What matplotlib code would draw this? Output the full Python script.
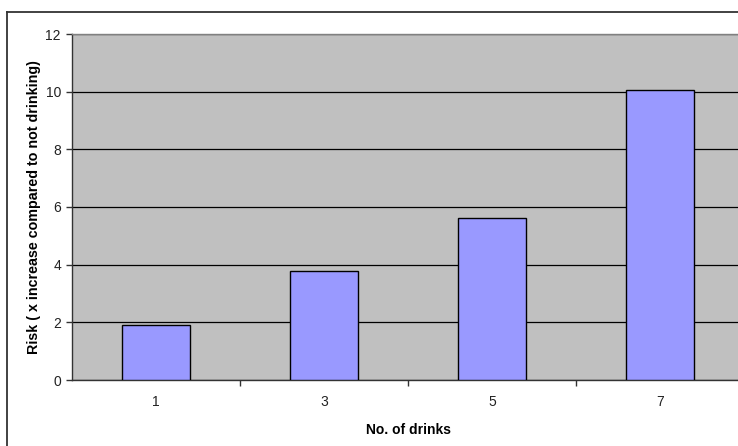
import matplotlib.pyplot as plt
from matplotlib.lines import Line2D

# Risk increase by number of drinks
drinks = ["1", "3", "5", "7"]
risk = [1.92, 3.78, 5.61, 10.06]

plt.rcParams["font.family"] = ["Liberation Sans", "DejaVu Sans"]

fig = plt.figure(figsize=(7.38, 4.46), dpi=100)
W, H = 738, 446
ax = fig.add_axes([72 / W, 66 / H, 672 / W, 346 / H])

ax.set_facecolor("#C0C0C0")
pos = list(range(len(drinks)))
ax.bar(pos, risk, width=0.4, color="#9999FF", edgecolor="black", linewidth=1.0, zorder=3)

ax.set_xlim(-0.5, len(drinks) - 0.5)
ax.set_ylim(0, 12)
ax.set_yticks(range(0, 13, 2))
ax.yaxis.grid(True, color="black", linewidth=0.9)
ax.set_axisbelow(True)

# category labels centred, tick marks on the boundaries
ax.set_xticks(pos)
ax.set_xticklabels(drinks)
ax.set_xticks([p + 0.5 for p in pos[:-1]], minor=True)
ax.tick_params(axis="x", which="major", length=0, pad=11, labelsize=10, labelcolor="#222222")
ax.tick_params(axis="x", which="minor", length=4, width=1, color="#333333", direction="out")
ax.tick_params(axis="y", length=4, width=1, color="#333333", pad=4, labelsize=10, labelcolor="#222222")

for s in ["left", "bottom"]:
    ax.spines[s].set_color("#333333")
    ax.spines[s].set_linewidth(1)
ax.spines["top"].set_color("#808080")
ax.spines["top"].set_linewidth(1)
ax.spines["right"].set_visible(False)

ax.set_xlabel("No. of drinks", fontsize=10, fontweight="bold", labelpad=10)
ax.set_ylabel("Risk ( x increase compared to not drinking)", fontsize=10.3, fontweight="bold", labelpad=3)

# chart frame
fig.add_artist(Line2D([7 / W, 7 / W], [0, 1 - 12 / H], transform=fig.transFigure, color="#333333", linewidth=1.3))
fig.add_artist(Line2D([7 / W, 1], [1 - 12 / H, 1 - 12 / H], transform=fig.transFigure, color="#333333", linewidth=1.3))

fig.savefig("out.png", dpi=100)
